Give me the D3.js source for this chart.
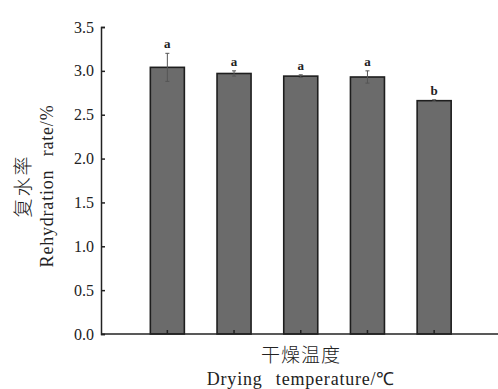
<!DOCTYPE html>
<html>
<head>
<meta charset="utf-8">
<script src="https://cdn.jsdelivr.net/npm/d3@7"></script>
<style>
body { margin: 0; background: #fff; }
text { font-family: "Liberation Serif", "Times New Roman", serif; fill: #222; }
.cjk { font-family: "Noto Sans CJK SC", sans-serif; font-weight: 300; }
</style>
</head>
<body>
<div id="chart"></div>
<script>
// drying temperature groups (no labels printed in the figure)
var categories = ["T1", "T2", "T3", "T4", "T5"];
var rates = [3.04, 2.97, 2.94, 2.93, 2.66];
var errors = [0.16, 0.03, 0.015, 0.07, 0.01];
var letters = ["a", "a", "a", "a", "b"];
var yTicks = [0, 0.5, 1.0, 1.5, 2.0, 2.5, 3.0, 3.5];

var W = 498, H = 389;
var plotLeft = 101, plotRight = 498, plotTop = 27, plotBottom = 334;

var svg = d3.select("#chart").append("svg")
    .attr("width", W)
    .attr("height", H);

var x = d3.scaleBand()
    .domain(categories)
    .range([134, 467.5])
    .paddingInner(0.49)
    .paddingOuter(0.245);

var y = d3.scaleLinear()
    .domain([0, 3.5])
    .range([plotBottom, plotTop]);

// bars
svg.append("g").selectAll("rect")
    .data(rates)
    .enter().append("rect")
    .attr("x", function(d, i){ return x(categories[i]); })
    .attr("y", function(d){ return y(d); })
    .attr("width", x.bandwidth())
    .attr("height", function(d){ return y(0) - y(d); })
    .attr("fill", "#6b6b6b")
    .attr("stroke", "#1e1e1e")
    .attr("stroke-width", 1.6);

// error bars
var eb = svg.append("g").attr("stroke", "#555").attr("stroke-width", 1);
rates.forEach(function(d, i){
    var cx = x(categories[i]) + x.bandwidth() / 2;
    eb.append("line")
        .attr("x1", cx).attr("x2", cx)
        .attr("y1", y(d - errors[i])).attr("y2", y(d + errors[i]));
    [d - errors[i], d + errors[i]].forEach(function(v){
        eb.append("line")
            .attr("x1", cx - 2).attr("x2", cx + 2)
            .attr("y1", y(v)).attr("y2", y(v));
    });
});

// significance letters
svg.append("g").selectAll("text")
    .data(rates)
    .enter().append("text")
    .attr("x", function(d, i){ return x(categories[i]) + x.bandwidth() / 2; })
    .attr("y", function(d, i){ return y(d + errors[i]) - 5; })
    .attr("text-anchor", "middle")
    .attr("font-size", 13)
    .attr("font-weight", "bold")
    .text(function(d, i){ return letters[i]; });

// y axis
var yAxis = svg.append("g")
    .attr("transform", "translate(" + plotLeft + ",0)")
    .call(d3.axisRight(y).tickValues(yTicks).tickSize(4).tickFormat(""));
yAxis.select(".domain").attr("stroke", "#222").attr("stroke-width", 1.5);
yAxis.selectAll(".tick line").attr("stroke", "#222").attr("stroke-width", 1.5);

svg.append("g").selectAll("text")
    .data(yTicks)
    .enter().append("text")
    .attr("x", plotLeft - 7)
    .attr("y", function(d){ return y(d); })
    .attr("dy", "0.35em")
    .attr("text-anchor", "end")
    .attr("font-size", 16)
    .text(function(d){ return d3.format(".1f")(d); });

// x axis
svg.append("line")
    .attr("x1", plotLeft).attr("x2", plotRight)
    .attr("y1", plotBottom).attr("y2", plotBottom)
    .attr("stroke", "#222").attr("stroke-width", 1.5);
var xAxis = svg.append("g")
    .attr("transform", "translate(0," + plotBottom + ")")
    .call(d3.axisTop(x).tickSize(4).tickFormat(""));
xAxis.select(".domain").remove();
xAxis.selectAll(".tick line").attr("stroke", "#222").attr("stroke-width", 1.5);

// axis titles
svg.append("text")
    .attr("class", "cjk")
    .attr("x", 301).attr("y", 362)
    .attr("text-anchor", "middle")
    .attr("font-size", 19)
    .attr("letter-spacing", 1)
    .text("干燥温度");
svg.append("text")
    .attr("x", 301).attr("y", 385)
    .attr("text-anchor", "middle")
    .attr("font-size", 18)
    .attr("letter-spacing", 0.8)
    .attr("word-spacing", 8)
    .text("Drying temperature/℃");

svg.append("text")
    .attr("class", "cjk")
    .attr("transform", "translate(30,186) rotate(-90)")
    .attr("text-anchor", "middle")
    .attr("font-size", 19)
    .attr("letter-spacing", 2)
    .text("复水率");
svg.append("text")
    .attr("transform", "translate(53,186) rotate(-90)")
    .attr("text-anchor", "middle")
    .attr("font-size", 18)
    .attr("letter-spacing", 0.8)
    .attr("word-spacing", 8)
    .text("Rehydration rate/%");
</script>
</body>
</html>
